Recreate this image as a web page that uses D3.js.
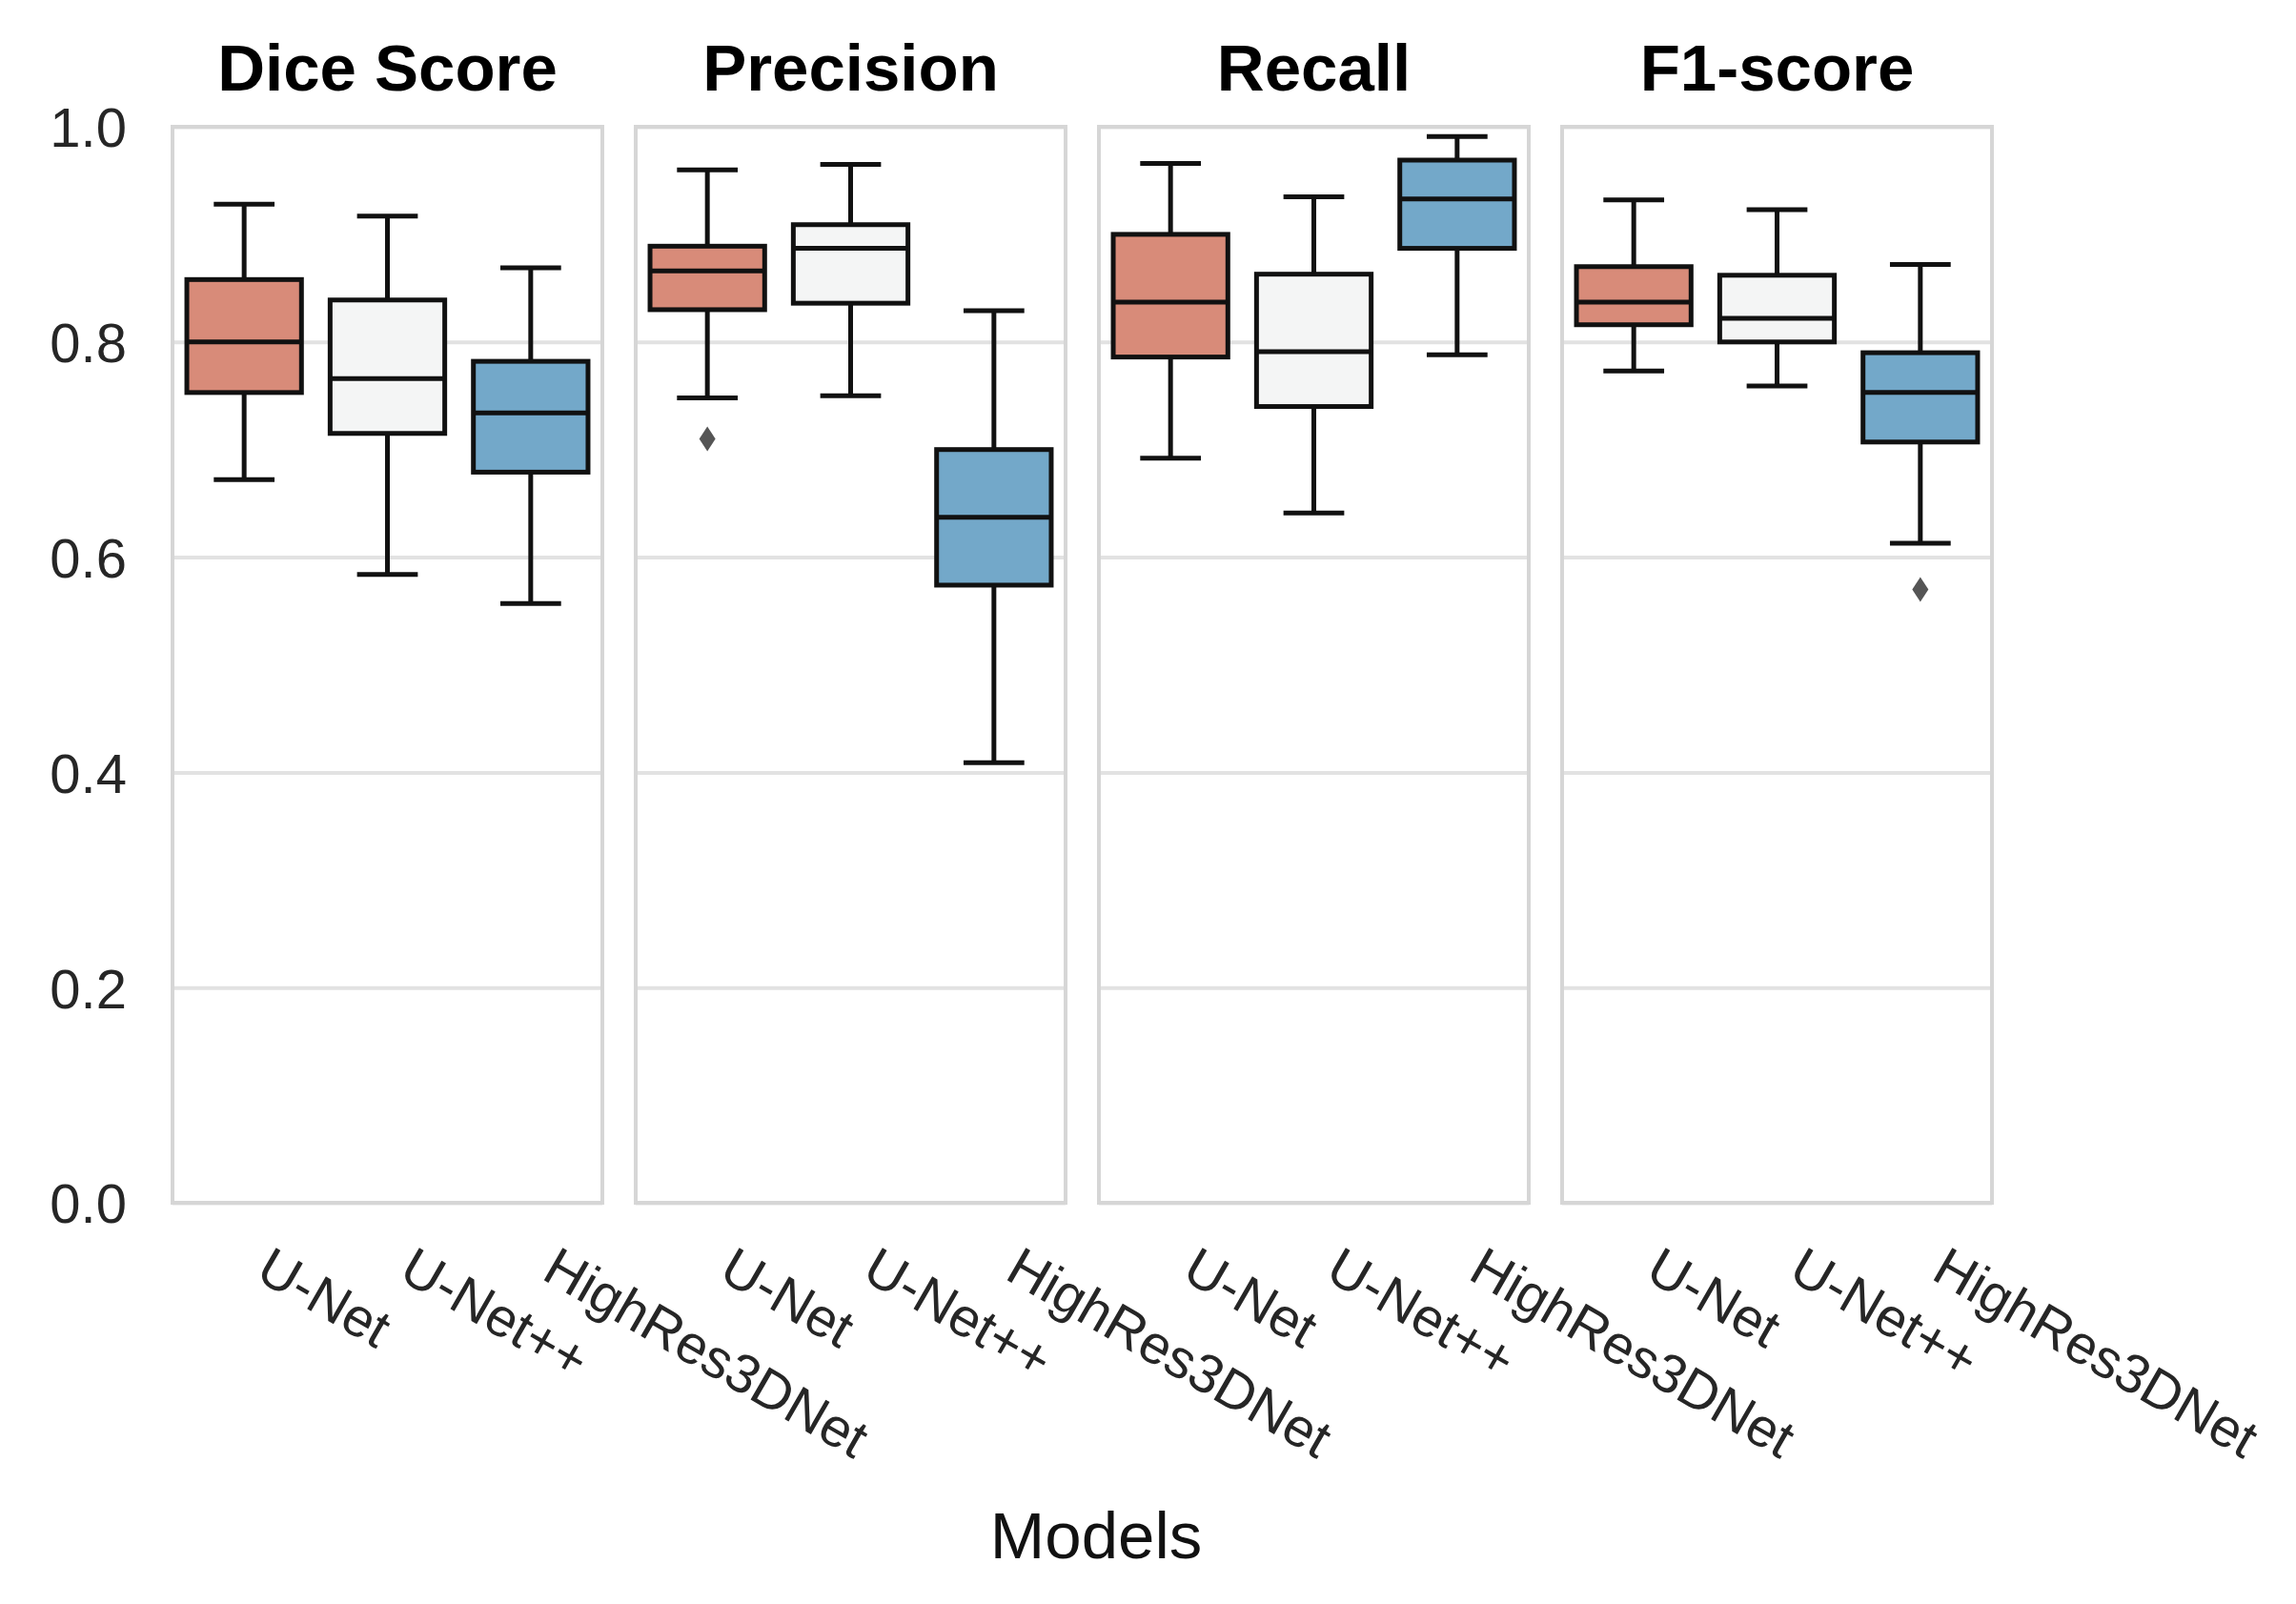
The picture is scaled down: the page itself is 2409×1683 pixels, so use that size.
<!DOCTYPE html>
<html>
<head>
<meta charset="utf-8">
<script src="https://cdn.jsdelivr.net/npm/d3@7"></script>
<style>
  html, body { margin: 0; padding: 0; background: #ffffff; }
  svg { display: block; }
  text { font-family: "Liberation Sans", Arial, sans-serif; }
</style>
</head>
<body>
<svg id="chart" width="2409" height="1683"></svg>
<script>
// ---- Data ----
const metrics = ["Dice Score", "Precision", "Recall", "F1-score"];
const models = ["U-Net", "U-Net++", "HighRes3DNet"];
const yTicks = [0.0, 0.2, 0.4, 0.6, 0.8, 1.0];
// each row: [lower whisker, Q1, median, Q3, upper whisker], one row per model
const diceScore = [
  [0.672, 0.753, 0.800, 0.858, 0.928],
  [0.584, 0.715, 0.766, 0.839, 0.917],
  [0.557, 0.679, 0.734, 0.782, 0.869]
];
const precision = [
  [0.748, 0.830, 0.866, 0.889, 0.960],
  [0.750, 0.836, 0.887, 0.909, 0.965],
  [0.409, 0.574, 0.637, 0.700, 0.829]
];
const recall = [
  [0.692, 0.786, 0.837, 0.900, 0.966],
  [0.641, 0.740, 0.791, 0.863, 0.935],
  [0.788, 0.887, 0.933, 0.969, 0.991]
];
const f1Score = [
  [0.773, 0.816, 0.837, 0.870, 0.932],
  [0.759, 0.800, 0.822, 0.862, 0.923],
  [0.613, 0.707, 0.753, 0.790, 0.872]
];
const outlierMetric = ["Precision", "F1-score"];
const outlierModel = ["U-Net", "HighRes3DNet"];
const outlierValue = [0.710, 0.570];

const statsByMetric = [diceScore, precision, recall, f1Score];
const modelColors = ["#d88b79", "#f4f5f5", "#73a8c9"];

// ---- Layout ----
const svg = d3.select("#chart");
const panelLeft0 = 181, panelW = 451, panelGap = 35;
const plotTop = 133, plotBottom = 1262;

const y = d3.scaleLinear().domain([0, 1]).range([plotBottom, plotTop]);
const panelX = d3.scaleBand().domain(metrics)
  .range([panelLeft0, panelLeft0 + 4 * panelW + 3 * panelGap])
  .paddingInner(panelGap / (panelW + panelGap)).paddingOuter(0);
const x = d3.scaleBand().domain(models).range([0, panelX.bandwidth()]).padding(0);
const boxW = x.bandwidth() * 0.8;
const capW = boxW * 0.53;

const gridColor = "#e2e2e2", frameColor = "#d6d6d6", lineColor = "#111111";
const lw = 5;

metrics.forEach((m, mi) => {
  const g = svg.append("g").attr("transform", `translate(${panelX(m)},0)`);
  const w = panelX.bandwidth();

  // grid
  const grid = g.append("g").call(d3.axisLeft(y).tickValues(yTicks).tickSize(-w).tickFormat(""));
  grid.select(".domain").remove();
  grid.selectAll("line").attr("stroke", gridColor).attr("stroke-width", 4);

  // boxes
  const stats = statsByMetric[mi];
  const bx = g.selectAll("g.box").data(models).enter().append("g")
    .attr("transform", d => `translate(${x(d) + x.bandwidth() / 2},0)`);
  bx.each(function(d, i) {
    const s = stats[i];
    const sel = d3.select(this);
    sel.append("line").attr("x1", 0).attr("x2", 0).attr("y1", y(s[4])).attr("y2", y(s[3]))
      .attr("stroke", lineColor).attr("stroke-width", lw);
    sel.append("line").attr("x1", 0).attr("x2", 0).attr("y1", y(s[1])).attr("y2", y(s[0]))
      .attr("stroke", lineColor).attr("stroke-width", lw);
    [s[0], s[4]].forEach(v => {
      sel.append("line").attr("x1", -capW / 2).attr("x2", capW / 2).attr("y1", y(v)).attr("y2", y(v))
        .attr("stroke", lineColor).attr("stroke-width", lw);
    });
    sel.append("rect").attr("x", -boxW / 2).attr("width", boxW)
      .attr("y", y(s[3])).attr("height", y(s[1]) - y(s[3]))
      .attr("fill", modelColors[i]).attr("stroke", lineColor).attr("stroke-width", lw);
    sel.append("line").attr("x1", -boxW / 2).attr("x2", boxW / 2).attr("y1", y(s[2])).attr("y2", y(s[2]))
      .attr("stroke", lineColor).attr("stroke-width", lw);
  });

  // outliers
  outlierMetric.forEach((om, k) => {
    if (om !== m) return;
    g.append("path")
      .attr("d", "M0,-13 L8.5,0 L0,13 L-8.5,0 Z")
      .attr("transform", `translate(${x(outlierModel[k]) + x.bandwidth() / 2},${y(outlierValue[k])})`)
      .attr("fill", "#555555");
  });

  // frame
  g.append("rect").attr("x", 0).attr("y", plotTop).attr("width", w).attr("height", plotBottom - plotTop)
    .attr("fill", "none").attr("stroke", frameColor).attr("stroke-width", 4);

  // title
  g.append("text").attr("x", w / 2).attr("y", 95).attr("text-anchor", "middle")
    .attr("font-size", 69).attr("font-weight", "bold").attr("fill", "#000").text(m);

  // x tick labels
  const xa = g.append("g").attr("transform", `translate(0,${plotBottom})`)
    .call(d3.axisBottom(x).tickSize(0));
  xa.select(".domain").remove();
  xa.selectAll("text")
    .attr("x", null).attr("y", null).attr("dy", null)
    .attr("transform", "translate(10,79) rotate(30)")
    .attr("text-anchor", "start")
    .attr("font-size", 57).attr("fill", "#262626");
});

// y axis labels
const ya = svg.append("g").attr("transform", `translate(133,0)`)
  .call(d3.axisLeft(y).tickValues(yTicks).tickSize(0).tickPadding(0).tickFormat(d3.format(".1f")));
ya.select(".domain").remove();
ya.selectAll("text").attr("font-size", 58).attr("fill", "#262626").attr("dy", "0.36em");

// x axis title
svg.append("text").attr("x", 1150).attr("y", 1635).attr("text-anchor", "middle")
  .attr("font-size", 69).attr("fill", "#111").text("Models");
</script>
</body>
</html>
